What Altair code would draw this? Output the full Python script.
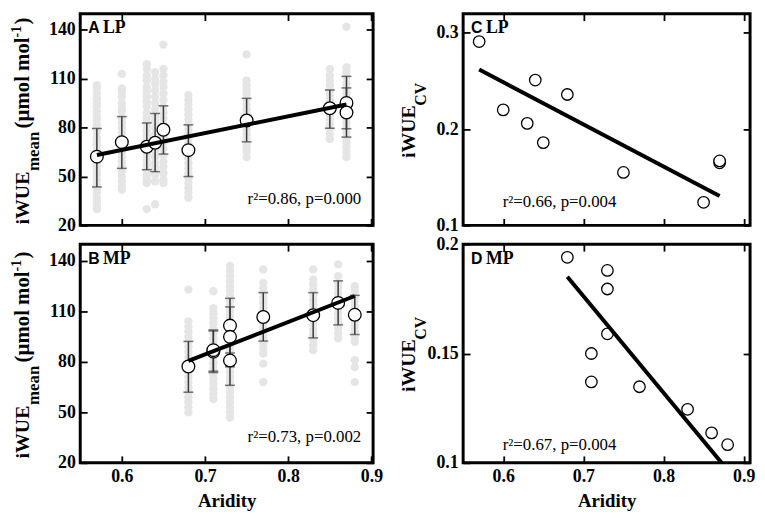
import altair as alt
import pandas as pd

# ---------------- data ----------------
lp_site = [0.57, 0.60, 0.63, 0.64, 0.65, 0.68, 0.75, 0.85, 0.87, 0.87]
lp_mean = [62.2, 71.1, 68.3, 70.7, 78.7, 66.2, 84.4, 91.9, 95.2, 89.3]
lp_lo = [43.6, 55.0, 54.2, 53.0, 63.8, 50.0, 71.3, 79.7, 79.3, 74.2]
lp_hi = [79.5, 86.8, 82.9, 88.7, 93.4, 81.7, 98.0, 103.1, 111.5, 104.4]
lp_cv = [0.291, 0.220, 0.206, 0.251, 0.186, 0.236, 0.155, 0.124, 0.165, 0.167]

mp_site = [0.68, 0.71, 0.71, 0.73, 0.73, 0.73, 0.77, 0.83, 0.86, 0.88]
mp_mean = [77.3, 86.1, 87.0, 101.6, 94.9, 80.8, 106.7, 107.8, 115.1, 108.0]
mp_lo = [62.0, 73.7, 74.5, 85.3, 77.1, 66.1, 92.4, 94.3, 102.0, 96.3]
mp_hi = [92.2, 99.0, 98.4, 117.8, 112.7, 95.3, 121.2, 121.2, 128.2, 119.6]
mp_cv = [0.194, 0.150, 0.137, 0.188, 0.1795, 0.159, 0.1348, 0.1245, 0.1137, 0.1083]

# raw (grey) observations per site
lp_raw_sites = [0.57, 0.60, 0.63, 0.64, 0.65, 0.68, 0.75, 0.85, 0.87]
lp_raw_057 = [106, 104, 101, 98, 95, 93, 90, 87, 85, 82, 79, 77, 74, 72, 69, 66, 64,
              61, 58, 56, 53, 51, 48, 45, 43, 40, 37, 35, 32, 30]
lp_raw_060 = [113, 104, 102, 99, 95, 92, 90, 86, 83, 80, 77, 74, 71, 68, 65, 62,
              59, 56, 53, 50, 47, 44, 42]
lp_raw_063 = [119, 116, 112, 109, 105, 102, 99, 96, 93, 89, 86, 83, 81, 78, 75, 72,
              69, 66, 63, 60, 57, 54, 51, 48, 46, 30]
lp_raw_064 = [114, 110, 107, 103, 99, 95, 91, 87, 84, 80, 76, 73, 69, 66, 62, 58,
              55, 51, 47, 33]
lp_raw_065 = [131, 116, 112, 108, 105, 101, 97, 93, 89, 86, 82, 78, 74, 71, 67, 63,
              59, 56, 52, 48, 46]
lp_raw_068 = [100, 97, 94, 91, 88, 85, 82, 79, 76, 73, 70, 67, 64, 61, 58, 55, 52,
              49, 46, 43, 40, 37]
lp_raw_075 = [125, 109, 106, 103, 100, 97, 94, 91, 88, 85, 82, 79, 76, 73, 70, 67,
              65, 62]
lp_raw_085 = [116, 112, 109, 106, 103, 100, 97, 94, 91, 88, 85, 82, 79, 76, 73]
lp_raw_087 = [142, 117, 114, 111, 107, 104, 101, 98, 95, 92, 89, 86, 83, 80, 77,
              74, 71, 68, 65, 62]

mp_raw_sites = [0.68, 0.71, 0.73, 0.77, 0.83, 0.86, 0.88]
mp_raw_068 = [123, 104, 101, 98, 95, 92, 89, 86, 83, 80, 77, 74, 71, 68, 65, 62,
              59, 56, 53, 50]
mp_raw_071 = [122, 112, 109, 106, 103, 100, 97, 94, 91, 88, 85, 82, 79, 76, 73, 70,
              67, 64, 61, 58]
mp_raw_073 = [137, 134, 131, 128, 125, 122, 119, 116, 113, 110, 107, 104, 101, 98,
              95, 92, 89, 86, 83, 80, 77, 74, 71, 68, 65, 62, 59, 56, 53, 50, 47]
mp_raw_077 = [135, 127, 124, 121, 118, 115, 112, 109, 106, 103, 100, 97, 94, 91,
              88, 85, 79, 68]
mp_raw_083 = [135, 129, 126, 123, 120, 117, 114, 111, 108, 105, 102, 99, 96, 93,
              90, 87]
mp_raw_086 = [138, 131, 127, 124, 121, 118, 115, 112, 109, 106, 103, 100, 97, 94]
mp_raw_088 = [125, 122, 119, 116, 113, 110, 107, 104, 101, 98, 95, 92, 81, 77, 68]

# fitted regression lines (end points)
lp_fit_x = [0.57, 0.87]
lp_fit_mean = [63.2, 94.2]
lp_fit_cv = [0.262, 0.1305]
mp_fit_x = [0.68, 0.88]
mp_fit_mean = [80.6, 119.2]
mp_fit_cv = [0.1851, 0.0967]

stats = ["r²=0.86, p=0.000", "r²=0.73, p=0.002", "r²=0.66, p=0.004", "r²=0.67, p=0.004"]
x_ticks = [0.6, 0.7, 0.8, 0.9]
mean_ticks = [20, 50, 80, 110, 140]
lp_cv_ticks = [0.1, 0.2, 0.3]
mp_cv_ticks = [0.1, 0.15, 0.2]

# ---------------- styling ----------------
SERIF = "Liberation Serif"
SANS = "Liberation Sans"
TS = 7


def axis(orient, values, labels, fmt=".1f", title=None):
    kw = dict(orient=orient, values=values, labels=labels, domain=False, grid=False,
              ticks=True, tickSize=TS, offset=-TS, tickColor="black", tickWidth=1.8,
              title=title)
    if labels:
        kw.update(labelFont=SERIF, labelFontWeight="bold", labelFontSize=18,
                  labelColor="black", labelPadding=5, labelFlush=False,
                  labelOverlap=False, format=fmt)
    if title:
        kw.update(titleFont=SERIF, titleFontWeight="bold", titleFontSize=19,
                  titleColor="black", titlePadding=6)
    return alt.Axis(**kw)


def text_layer(s, x, y, size, font=SERIF, weight="normal", angle=0, align="left"):
    return alt.Chart(pd.DataFrame({"t": [s]})).mark_text(
        font=font, fontSize=size, fontWeight=weight, angle=angle, align=align,
        baseline="alphabetic", color="black"
    ).encode(x=alt.value(x), y=alt.value(y), text="t:N")


def raw_df(sites, lists):
    rows = []
    for s, vals in zip(sites, lists):
        rows += [{"x": s, "y": v} for v in vals]
    return pd.DataFrame(rows)


def panel(letter, group, pts, fit, xdom, dom, yticks, yfmt, bottom_labels, stat, stat_pos,
          title_pieces, W, H, raw=None, circ_size=165):
    def X(ax):
        return alt.X("x:Q", scale=alt.Scale(domain=xdom, nice=False, zero=False), axis=ax)

    def Y(field, ax):
        return alt.Y(f"{field}:Q", scale=alt.Scale(domain=dom, nice=False, zero=False), axis=ax)

    layers = []
    if raw is not None:
        layers.append(alt.Chart(raw).mark_circle(size=72, color="#e5e5e5", opacity=1).encode(
            x=X(None), y=Y("y", None)))
    if "lo" in pts.columns:
        layers.append(alt.Chart(pts).mark_rule(color="#3a3a3a", strokeWidth=1.5).encode(
            x=X(None), y=Y("lo", None), y2="hi:Q"))
        for f in ["lo", "hi"]:
            layers.append(alt.Chart(pts).mark_tick(orient="horizontal", size=10, thickness=1.5,
                                                   color="#3a3a3a").encode(
                x=X(None), y=Y(f, None)))
    layers.append(alt.Chart(pts).mark_point(shape="circle", filled=True, fill="white",
                                            stroke="black", strokeWidth=1.3, opacity=1,
                                            size=circ_size).encode(
        x=X(axis("bottom", x_ticks, bottom_labels, ".1f", "Aridity" if bottom_labels else None)),
        y=Y("y", axis("left", yticks, True, yfmt))))
    layers.append(alt.Chart(fit).mark_line(color="black", strokeWidth=4, clip=True).encode(
        x=X(axis("top", x_ticks, False)),
        y=Y("y", axis("right", yticks, False))))
    layers.append(text_layer(letter, 8, 20, 16, font=SANS, weight="bold"))
    layers.append(text_layer(group, 23, 20, 18, weight="bold"))
    layers.append(text_layer(stat, stat_pos[0], stat_pos[1], 17, align=stat_pos[2]))
    for s, size, dy, bx in title_pieces:
        layers.append(text_layer(s, bx, H / 2 + dy, size, weight="bold", angle=270))
    return alt.layer(*layers).properties(width=W, height=H).resolve_axis(
        x="independent", y="independent")


mean_title = [("iWUE", 20, 106, -52), ("mean", 17, 52, -42), ("(µmol mol", 21, 9, -52),
              ("-1", 14, -83, -60), (")", 21, -96, -52)]
cv_title = [("iWUE", 20, 39, -49), ("CV", 16, -14, -38)]

WL, WR = 296, 290
H1, H2 = 214, 221
XL = [0.55, 0.902]
XR = [0.55, 0.908]

A = panel("A", "LP",
          pd.DataFrame({"x": lp_site, "y": lp_mean, "lo": lp_lo, "hi": lp_hi}),
          pd.DataFrame({"x": lp_fit_x, "y": lp_fit_mean}),
          XL, [20, 150], mean_ticks, "d", False, stats[0], (WL - 12, H1 - 22, "right"),
          mean_title, WL, H1,
          raw=raw_df(lp_raw_sites, [lp_raw_057, lp_raw_060, lp_raw_063, lp_raw_064,
                                    lp_raw_065, lp_raw_068, lp_raw_075, lp_raw_085,
                                    lp_raw_087]))
B = panel("B", "MP",
          pd.DataFrame({"x": mp_site, "y": mp_mean, "lo": mp_lo, "hi": mp_hi}),
          pd.DataFrame({"x": mp_fit_x, "y": mp_fit_mean}),
          XL, [20, 150], mean_ticks, "d", True, stats[1], (WL - 12, H2 - 21, "right"),
          mean_title, WL, H2,
          raw=raw_df(mp_raw_sites, [mp_raw_068, mp_raw_071, mp_raw_073, mp_raw_077,
                                    mp_raw_083, mp_raw_086, mp_raw_088]))
C = panel("C", "LP",
          pd.DataFrame({"x": lp_site, "y": lp_cv}),
          pd.DataFrame({"x": lp_fit_x, "y": lp_fit_cv}),
          XR, [0.1, 0.32], lp_cv_ticks, ".1f", False, stats[2], (40, H1 - 19, "left"),
          cv_title, WR, H1, circ_size=135)
D = panel("D", "MP",
          pd.DataFrame({"x": mp_site, "y": mp_cv}),
          pd.DataFrame({"x": mp_fit_x, "y": mp_fit_cv}),
          XR, [0.1, 0.2], mp_cv_ticks, "~g", True, stats[3], (40, H2 - 13, "left"),
          cv_title, WR, H2, circ_size=135)

chart = alt.concat(A, C, B, D, columns=2, spacing={"row": -3, "column": 12},
                   align="each").properties(padding=0).configure(
    background="white"
).configure_view(stroke="black", strokeWidth=3)

chart.save("out.html", embed_options={"renderer": "svg", "actions": False})
